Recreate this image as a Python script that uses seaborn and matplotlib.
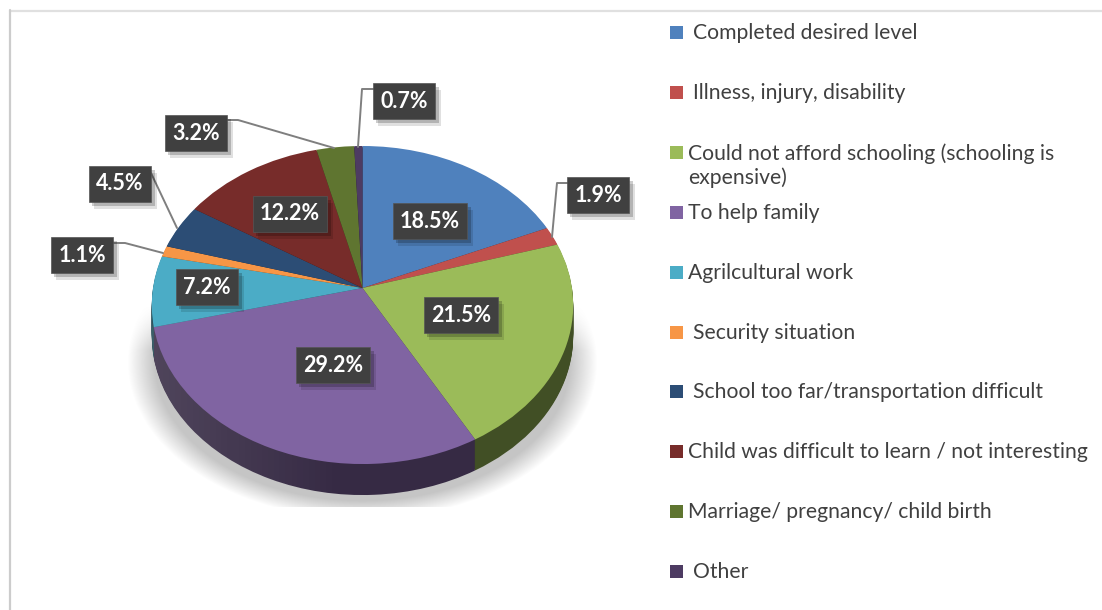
import numpy as np
import matplotlib
matplotlib.use("Agg")
import matplotlib.pyplot as plt
import matplotlib.patheffects as pe
from matplotlib.patches import Circle, Rectangle
from matplotlib.transforms import Affine2D, Transform
import seaborn as sns

categories = ["Completed desired level", "Illness, injury, disability",
              "Could not afford schooling (schooling is\nexpensive)", "To help family",
              "Agrilcultural work", "Security situation",
              "School too far/transportation difficult",
              "Child was difficult to learn / not interesting",
              "Marriage/ pregnancy/ child birth", "Other"]
values = [18.5, 1.9, 21.5, 29.2, 7.2, 1.1, 4.5, 12.2, 3.2, 0.7]
colors = ["#4F81BD", "#C0504D", "#9BBB59", "#8064A2", "#4BACC6",
          "#F79646", "#2C4D75", "#772C2A", "#5F7530", "#4D3B62"]

# layout, in pixels of the picture
label_xy = [(430, 221), (598, 195), (461, 315), (333, 365), (207, 287),
            (82, 255), (120, 184), (290, 214), (196, 133), (404, 101)]
leaders = [[(552, 237), (557, 183), (568, 183)],
           [(358, 147), (362, 89), (374, 89)],
           [(227, 120), (238, 120), (334, 148)],
           [(151, 173), (177, 228)],
           [(113, 243), (125, 243), (163, 253)]]
legend_y = [32, 92, 152, 212, 272, 332, 391, 451, 511, 571]
legend_x = [693, 693, 688, 688, 688, 693, 693, 688, 688, 693]
DEPTH = 31


class Perspective(Transform):
    # tilted disc: unit circle to picture pixels
    input_dims = 2
    output_dims = 2
    is_separable = False
    has_inverse = False

    def transform_non_affine(self, values):
        xy = np.asarray(values, dtype=float)
        w = 1 + 0.107 * xy[:, 1]
        return np.column_stack([362.5 + 209.5 * xy[:, 0] / w, 288 - 157.2 * xy[:, 1] / w])


sns.set_theme(style="white")
plt.rcParams["font.family"] = ["Lato", "DejaVu Sans"]
palette = sns.color_palette(colors)
dark = [tuple(c * 0.42 for c in col) for col in palette]

fig = plt.figure(figsize=(11.02, 6.1), dpi=100)
ax = fig.add_axes([0, 0, 1, 1])

# side of the pie, stacked layers from the bottom up
for d in range(DEPTH, 0, -1):
    wedges, _ = ax.pie(values, colors=dark, startangle=90, counterclock=False,
                       wedgeprops={"linewidth": 0})
    for w in wedges:
        w.set_transform(Perspective() + Affine2D().translate(0, d) + ax.transData)
        w.set_zorder(1)

# top face
wedges, _ = ax.pie(values, colors=palette, startangle=90, counterclock=False,
                   wedgeprops={"linewidth": 0.3, "edgecolor": "none"})
for w in wedges:
    w.set_transform(Perspective() + ax.transData)
    w.set_zorder(3)

# soft grey shadow under the pie
yy, xx = np.mgrid[300:507, 120:610]
r = np.sqrt(((xx - 362) / 228) ** 2 + ((yy - 362) / 152) ** 2)
shade = np.clip((1.03 - r) / 0.12, 0, 1) * np.clip((yy - 305) / 45, 0, 1)
rgba = np.zeros(shade.shape + (4,))
rgba[..., :3] = 0.72
rgba[..., 3] = shade * 0.8
ax.imshow(rgba, extent=(120, 610, 507, 300), aspect="auto", zorder=0, interpolation="bilinear")

# lighter left end on the side wall
grad = np.zeros((2, 200, 4))
grad[..., :3] = 1.0
grad[..., 3] = np.clip((0.45 - np.arange(200) / 199) / 0.45, 0, 1) * 0.13
im = ax.imshow(grad, extent=(150, 580, 530, 300), aspect="auto", zorder=2)
clip = Circle((0, 0), 1, transform=Perspective() + Affine2D().translate(0, DEPTH) + ax.transData)
im.set_clip_path(clip)

ax.set_aspect("auto")
ax.set_xlim(0, 1102)
ax.set_ylim(610, 0)
ax.axis("off")

# frame lines of the pasted picture
ax.plot([10, 1102], [10.5, 10.5], color="#e0e0e0", lw=1.6, zorder=1)
ax.plot([9.5, 9.5], [610, 10], color="#cccccc", lw=1.6, zorder=1)

for pts in leaders:
    ax.plot(*zip(*pts), color="#7f7f7f", lw=1.4, zorder=4, solid_capstyle="round")

for v, (x, y) in zip(values, label_xy):
    t = ax.text(x, y, f"{v:.1f}%", color="white", fontsize=15.5, fontweight="bold",
                ha="center", va="center", zorder=5,
                bbox={"boxstyle": "square,pad=0.34", "facecolor": "#404040",
                      "edgecolor": "#555555", "linewidth": 0.5})
    t.get_bbox_patch().set_path_effects([
        pe.SimplePatchShadow(offset=(4, -5), shadow_rgbFace="black", alpha=0.12),
        pe.SimplePatchShadow(offset=(2.5, -3), shadow_rgbFace="black", alpha=0.2),
        pe.Normal()])

for name, col, x, y in zip(categories, palette, legend_x, legend_y):
    ax.add_patch(Rectangle((670, y - 6.5), 13, 13, facecolor=col, edgecolor="none", zorder=4))
    ax.text(x, y - 9, name, color="#404040", fontsize=15.2,
            va="top", ha="left", linespacing=1.25, zorder=5)

fig.savefig("out.png", dpi=100)
